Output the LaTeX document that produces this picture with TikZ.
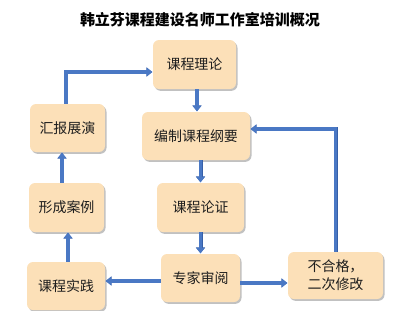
\documentclass[tikz,border=0pt]{standalone}
\usepackage{fontspec}
\newfontfamily\cjk{Noto Sans CJK SC}
\usetikzlibrary{arrows.meta,shadows}
\definecolor{boxfill}{HTML}{FCE0B8}
\definecolor{arrblue}{HTML}{4A78C4}
\definecolor{arrdark}{HTML}{3760A8}
\definecolor{txt}{HTML}{1E1E1E}
\begin{document}
\begin{tikzpicture}[x=1pt,y=-1pt,
  stepbox/.style={draw=none,fill=boxfill,rounded corners=6pt,inner sep=0pt,
    font=\cjk\fontsize{14}{18}\selectfont,text=txt,align=center,
    drop shadow={shadow xshift=1.5pt,shadow yshift=-1.8pt,opacity=0.35,fill=black!70}},
  arr/.style={arrblue,line width=3.2pt,shorten >=0.5pt,
    -{Triangle[width=8.5pt,length=5.5pt]},
    preaction={draw=arrdark,line width=4pt,shorten >=0.5pt,-{Triangle[width=9pt,length=6pt]}}}
]
\useasboundingbox (0,0) rectangle (400,311);
\node[font=\cjk\bfseries\fontsize{15}{18}\selectfont] (title) at (200,20) {韩立芬课程建设名师工作室培训概况};
\node[stepbox,minimum width=83pt,minimum height=49pt] (A) at (194.5,64.5) {课程理论};
\node[stepbox,minimum width=108pt,minimum height=48pt] (B) at (196,136) {编制课程纲要};
\node[stepbox,minimum width=75pt,minimum height=48pt] (C) at (67.5,128) {汇报展演};
\node[stepbox,minimum width=75pt,minimum height=49pt] (D) at (66.5,207.5) {形成案例};
\node[stepbox,minimum width=87pt,minimum height=49pt] (E) at (200.5,207.5) {课程论证};
\node[stepbox,minimum width=78pt,minimum height=48pt] (F) at (66,286) {课程实践};
\node[stepbox,minimum width=79pt,minimum height=48pt] (G) at (200.5,278) {专家审阅};
\node[stepbox,minimum width=95pt,minimum height=47pt] (H) at (335.5,275.5) {不合格，\\二次修改};
\draw[arr] ([xshift=2.5pt]A.south) -- ([xshift=2.5pt]A.south |- B.north);
\draw[arr] ([xshift=-1.5pt]C.north) |- ([yshift=-7.5pt]A.west);
\draw[arr] (B.south -| E.north) -- (E.north);
\draw[arr] (E.south) -- (G.north);
\draw[arr] ([yshift=-3pt]G.west) -- ([yshift=-3pt]G.west -| F.east);
\draw[arr] ([yshift=-5pt]G.east) -- ([yshift=-5pt]G.east -| H.west);
\draw[arr] (H.north) |- ([yshift=7pt]B.east);
\draw[arr] ([xshift=2pt]F.north) -- ([xshift=2pt]F.north |- D.south);
\draw[arr] ([xshift=-4.5pt]D.north) -- ([xshift=-4.5pt]D.north |- C.south);
\end{tikzpicture}
\end{document}
